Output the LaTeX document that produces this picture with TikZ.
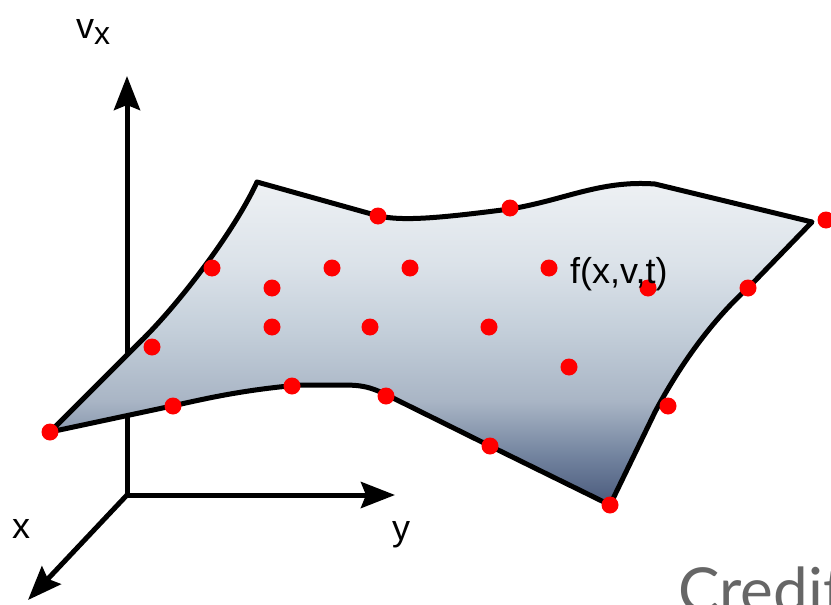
\documentclass[tikz,border=0pt]{standalone}
\usepackage{fontspec}
\setmainfont{Liberation Sans}
\newfontfamily\credfont{Lato}
\usetikzlibrary{arrows.meta}
\definecolor{s0}{HTML}{4A5A7C}
\definecolor{s1}{HTML}{6F809C}
\definecolor{s2}{HTML}{A9B5C5}
\definecolor{s3}{HTML}{C4CFDA}
\definecolor{s4}{HTML}{DBE2E9}
\definecolor{s5}{HTML}{EEF1F4}
\definecolor{credgray}{HTML}{666666}
\pgfdeclareverticalshading{surf}{100bp}{color(0bp)=(s0); color(25bp)=(s0); color(32bp)=(s1); color(41bp)=(s2); color(52bp)=(s3); color(62bp)=(s4); color(75bp)=(s5); color(100bp)=(s5)}
\tikzset{
  axisline/.style={line width=5pt, -{Stealth[length=34pt,width=26pt,inset=5pt]}},
  edge/.style={line width=5pt, line join=round, shading=surf},
  dot/.style={circle, fill=red, inner sep=0pt, minimum size=17pt},
  lbl/.style={inner sep=0pt, font=\fontsize{36}{40}\selectfont}
}
\begin{document}
\begin{tikzpicture}[x=1pt,y=-1pt]
\useasboundingbox (0,0) rectangle (831,605);
\clip (0,0) rectangle (831,605);
\fill[white] (0,0) rectangle (831,605);
% axes
\coordinate (o) at (127,495);
\coordinate (vt) at (127,76);
\coordinate (yt) at (395,495);
\coordinate (xt) at (28,600);
\draw[axisline] (o) -- (vt);
\draw[axisline] (o) -- (yt);
\draw[axisline] (o) -- (xt);
% surface
\path[edge, draw=black]
  (257,182) -- (375,215)
  .. controls (400,222) and (440,218) .. (510,209)
  .. controls (565,200) and (600,180) .. (655,184)
  -- (812,222)
  -- (750,286)
  .. controls (712,320) and (680,365) .. (655,412)
  -- (610,505)
  -- (490,446) -- (395,399)
  .. controls (370,386) and (362,385) .. (340,385)
  -- (300,385)
  .. controls (240,390) and (200,400) .. (172,406)
  -- (50,432)
  -- (140,342)
  .. controls (180,303) and (235,230) .. (257,182) -- cycle;
% dots
\foreach \n/\px/\py in {a/212/268, b/378/216, c/510/208, d/826/220, e/332/268, f/410/268, g/549/268,
  h/272/288, i/648/288, j/748/288, k/152/347, l/272/327, m/370/327, n/489/327, p/569/367,
  q/173/406, r/292/386, s/386/396, t/668/406, u/50/432, w/490/446, z/610/505}
  \node[dot] (d\n) at (\px,\py) {};
% labels
\node[lbl, anchor=base west] (fl) at (570,283) {f(x,v,t)};
\node[lbl, anchor=base west] (vl) at (76,38) {v\raisebox{-6pt}{\fontsize{32}{34}\selectfont x}};
\node[lbl, anchor=base west] (xl) at (12,538) {x};
\node[lbl, anchor=base west] (yl) at (392,540) {y};
\node[inner sep=0pt, anchor=base west, text=credgray, font=\credfont\fontsize{62}{66}\selectfont] (cr) at (678,612) {Credit};
\end{tikzpicture}
\end{document}
